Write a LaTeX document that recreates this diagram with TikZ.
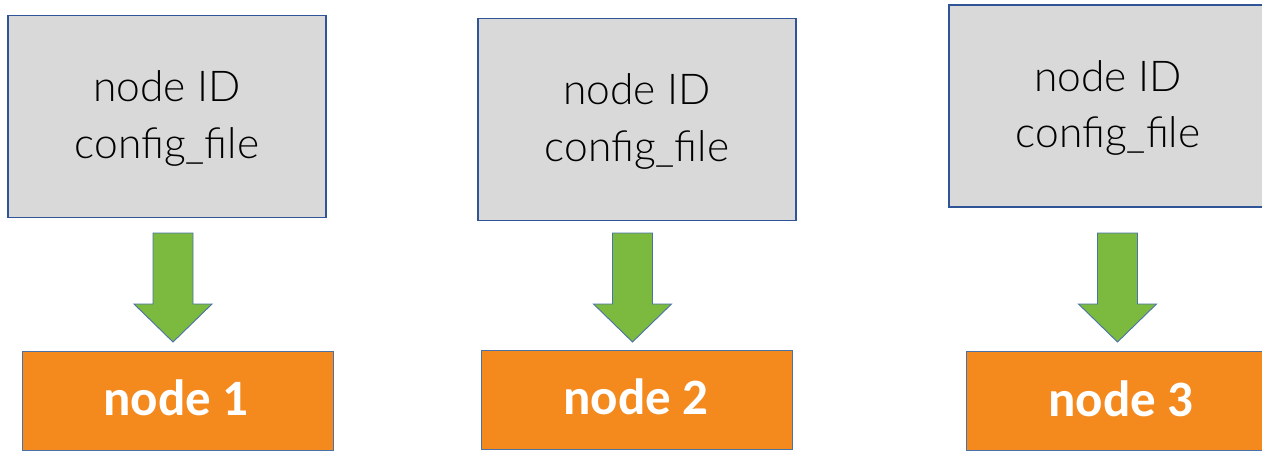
\documentclass[tikz,border=0pt]{standalone}
\usepackage{fontspec}
\usetikzlibrary{calc}
\newfontfamily\labelfont{Lato}[UprightFont=* Light]
\newfontfamily\nodefont{Carlito}[UprightFont=* Bold]
\definecolor{boxgray}{HTML}{D9D9D9}
\definecolor{boxblue}{HTML}{2F5597}
\definecolor{nodeorange}{HTML}{F4891E}
\definecolor{arrowgreen}{HTML}{7BBA3F}
\definecolor{edgeblue}{HTML}{4A72A8}
\tikzset{
  configbox/.style={draw=boxblue, line width=1.8pt, fill=boxgray,
    minimum width=318pt, minimum height=202pt, inner sep=0pt},
  configtext/.style={anchor=base, inner sep=0pt, font=\labelfont\fontsize{42.5}{50}\selectfont, text=black},
  nodebox/.style={draw=edgeblue, line width=1pt, fill=nodeorange,
    minimum width=311pt, minimum height=99pt, inner sep=0pt},
  nodetext/.style={anchor=base, inner sep=0pt, font=\nodefont\fontsize{51}{60}\selectfont, text=white},
  greenarrow/.style={draw=edgeblue, line width=0.9pt, fill=arrowgreen, line join=miter},
}
\begin{document}
\begin{tikzpicture}[x=1pt, y=-1pt]
  \useasboundingbox (0,0) rectangle (1262,452);
  \clip (0,0) rectangle (1262,452);
  \fill[white] (0,0) rectangle (1262,452);

  % configuration boxes
  \node[configbox] (c1) at (167,116.5) {};
  \node[configbox] (c2) at (637,119.5) {};
  \node[configbox] (c3) at (1108,106) {};

  \node[configtext] (c1a) at (167,102) {node ID};
  \node[configtext] (c1b) at (167,158) {config\_file};
  \node[configtext] (c2a) at (637,105) {node ID};
  \node[configtext] (c2b) at (637,161) {config\_file};
  \node[configtext] (c3a) at (1108,91.5) {node ID};
  \node[configtext] (c3b) at (1108,147.5) {config\_file};

  % started nodes
  \node[nodebox] (n1) at (177.5,400.5) {};
  \node[nodebox] (n2) at (636.5,400) {};
  \node[nodebox] (n3) at (1121.5,401) {};

  \node[nodetext] (n1t) at (176,415) {node 1};
  \node[nodetext] (n2t) at (636,414) {node 2};
  \node[nodetext] (n3t) at (1121,416) {node 3};

  % block arrows from each config box down to its node
  \coordinate (a1t) at (173,233);   \coordinate (a1b) at (173,342);
  \coordinate (a2t) at (632.5,233); \coordinate (a2b) at (632.5,342);
  \coordinate (a3t) at (1117.5,233);\coordinate (a3b) at (1117.5,342);
  \foreach \t/\b in {a1t/a1b, a2t/a2b, a3t/a3b}{
    \draw[greenarrow] ($(\t)+(-20,0)$) -- ++(40,0) -- ++(0,71) -- ++(19,0)
      -- (\b) -- ++(-39,-38) -- ++(19,0) -- cycle;
  }
\end{tikzpicture}
\end{document}
